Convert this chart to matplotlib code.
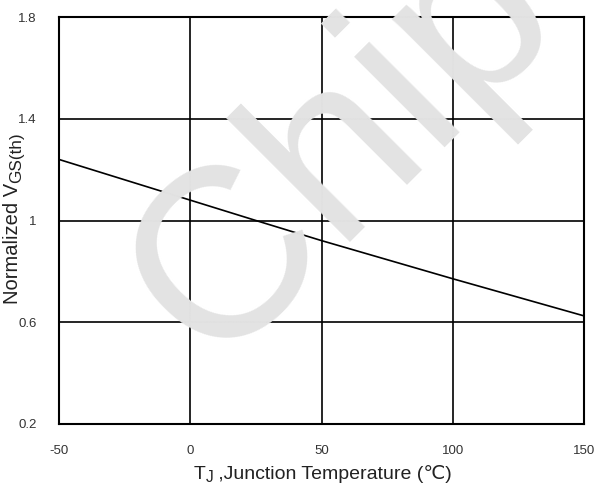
import matplotlib
matplotlib.use("Agg")
import matplotlib.pyplot as plt

# Data
temp_c = [-50, 0, 25, 50, 100, 150]
norm_vgs = [1.24, 1.08, 1.0, 0.921, 0.771, 0.625]

x_ticks = [-50, 0, 50, 100, 150]
x_ticklabels = ["-50", "0", "50", "100", "150"]
y_ticks = [0.2, 0.6, 1.0, 1.4, 1.8]
y_ticklabels = ["0.2", "0.6", "1", "1.4", "1.8"]

FAM = ['Liberation Sans', 'DejaVu Sans']
plt.rcParams['font.family'] = FAM

W, H = 599, 488
fig = plt.figure(figsize=(W / 100, H / 100), dpi=100)
ax = fig.add_axes([59 / W, 64 / H, (584 - 59) / W, (424 - 17) / H])

# watermark
fig.text(212 / W, 1 - 368 / H, "Chip", fontsize=174, color='#e3e3e3',
         rotation=45, rotation_mode='anchor', ha='left', va='baseline',
         family=FAM, zorder=0)
ax.patch.set_alpha(0)

ax.plot(temp_c, norm_vgs, color='black', lw=1.2, zorder=3)

ax.set_xlim(-50, 150)
ax.set_ylim(0.2, 1.8)
ax.set_xticks(x_ticks)
ax.set_xticklabels(x_ticklabels)
ax.set_yticks(y_ticks)
ax.set_yticklabels(y_ticklabels)
ax.tick_params(length=0, labelsize=9.5, labelcolor='#333333')
ax.tick_params(axis='x', pad=15)
ax.tick_params(axis='y', pad=16)
ax.grid(True, color='black', lw=1.2)
for s in ax.spines.values():
    s.set_linewidth(1.5)
    s.set_color('black')

renderer = fig.canvas.get_renderer()
LBL = 14
SUB = 0.8
col = '#222222'


def px(x, y):
    return x / W, 1 - y / H


# x label: T, subscript J, rest
parts_x = [("T", LBL, 0), ("J", LBL * SUB, 3), (" ,Junction Temperature (\u2103)", LBL, 0)]
texts = []
for s, fs, dy in parts_x:
    t = fig.text(0, 0, s, fontsize=fs, color=col, family=FAM,
                 ha='left', va='baseline')
    texts.append((t, dy))
widths = [t.get_window_extent(renderer).width for t, _ in texts]
xs = 323 - sum(widths) / 2
base_y = 479
for (t, dy), w in zip(texts, widths):
    t.set_position(px(xs, base_y + dy))
    xs += w

# y label: Normalized V, subscript GS(th)
parts_y = [("Normalized V", LBL + 0.5, 0), ("GS(th)", (LBL + 0.5) * 0.85, 3)]
texts = []
for s, fs, dx in parts_y:
    t = fig.text(0, 0, s, fontsize=fs, color=col, family=FAM, rotation=90,
                 rotation_mode='anchor', ha='left', va='baseline')
    texts.append((t, dx))
heights = [t.get_window_extent(renderer).height for t, _ in texts]
ys = 218 + sum(heights) / 2
base_x = 18
for (t, dx), h in zip(texts, heights):
    t.set_position(px(base_x + dx, ys))
    ys -= h

fig.savefig("out.png", dpi=100)
